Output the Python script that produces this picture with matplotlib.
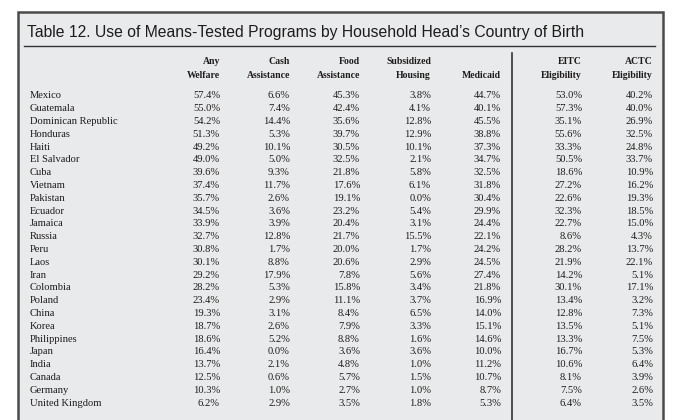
import matplotlib
matplotlib.use("Agg")
import matplotlib.pyplot as plt
from matplotlib.patches import Rectangle

title = "Table 12. Use of Means-Tested Programs by Household Head\u2019s Country of Birth"

countries = ["Mexico", "Guatemala", "Dominican Republic", "Honduras", "Haiti", "El Salvador",
             "Cuba", "Vietnam", "Pakistan", "Ecuador", "Jamaica", "Russia", "Peru", "Laos",
             "Iran", "Colombia", "Poland", "China", "Korea", "Philippines", "Japan", "India",
             "Canada", "Germany", "United Kingdom"]

headers = [("Any", "Welfare"), ("Cash", "Assistance"), ("Food", "Assistance"),
           ("Subsidized", "Housing"), ("", "Medicaid"), ("EITC", "Eligibility"),
           ("ACTC", "Eligibility")]

any_welfare = [57.4, 55.0, 54.2, 51.3, 49.2, 49.0, 39.6, 37.4, 35.7, 34.5, 33.9, 32.7, 30.8,
               30.1, 29.2, 28.2, 23.4, 19.3, 18.7, 18.6, 16.4, 13.7, 12.5, 10.3, 6.2]
cash = [6.6, 7.4, 14.4, 5.3, 10.1, 5.0, 9.3, 11.7, 2.6, 3.6, 3.9, 12.8, 1.7, 8.8, 17.9, 5.3,
        2.9, 3.1, 2.6, 5.2, 0.0, 2.1, 0.6, 1.0, 2.9]
food = [45.3, 42.4, 35.6, 39.7, 30.5, 32.5, 21.8, 17.6, 19.1, 23.2, 20.4, 21.7, 20.0, 20.6,
        7.8, 15.8, 11.1, 8.4, 7.9, 8.8, 3.6, 4.8, 5.7, 2.7, 3.5]
housing = [3.8, 4.1, 12.8, 12.9, 10.1, 2.1, 5.8, 6.1, 0.0, 5.4, 3.1, 15.5, 1.7, 2.9, 5.6, 3.4,
           3.7, 6.5, 3.3, 1.6, 3.6, 1.0, 1.5, 1.0, 1.8]
medicaid = [44.7, 40.1, 45.5, 38.8, 37.3, 34.7, 32.5, 31.8, 30.4, 29.9, 24.4, 22.1, 24.2, 24.5,
            27.4, 21.8, 16.9, 14.0, 15.1, 14.6, 10.0, 11.2, 10.7, 8.7, 5.3]
eitc = [53.0, 57.3, 35.1, 55.6, 33.3, 50.5, 18.6, 27.2, 22.6, 32.3, 22.7, 8.6, 28.2, 21.9,
        14.2, 30.1, 13.4, 12.8, 13.5, 13.3, 16.7, 10.6, 8.1, 7.5, 6.4]
actc = [40.2, 40.0, 26.9, 32.5, 24.8, 33.7, 10.9, 16.2, 19.3, 18.5, 15.0, 4.3, 13.7, 22.1,
        5.1, 17.1, 3.2, 7.3, 5.1, 7.5, 5.3, 6.4, 3.9, 2.6, 3.5]

columns = [any_welfare, cash, food, housing, medicaid, eitc, actc]

W, H = 678, 420
fig = plt.figure(figsize=(W / 100, H / 100), dpi=100)
ax = fig.add_axes([0, 0, 1, 1])
ax.set_xlim(0, W)
ax.set_ylim(H, 0)
ax.axis("off")

bg = "#e9eaeb"
txt = "#1e1b1c"
ax.add_patch(Rectangle((18, 12), 645, 420, facecolor=bg, edgecolor="#4a4a4a", lw=1.8, zorder=0))

ax.text(27, 33, title, fontsize=11.3, family=["Liberation Sans", "DejaVu Sans"],
        color=txt, va="center", ha="left")
ax.plot([24, 655], [46, 46], color="#333333", lw=1.0)
ax.plot([512, 512], [53, 425], color="#333333", lw=1.2)

col_x = [220, 290, 360, 431, 501, 582, 653]
serif = ["Liberation Serif", "DejaVu Serif"]
for x, (h1, h2) in zip(col_x, headers):
    ax.text(x, 62, h1, fontsize=7.0, fontweight="bold", family=serif, ha="right", va="center", color=txt)
    ax.text(x, 75, h2, fontsize=7.0, fontweight="bold", family=serif, ha="right", va="center", color=txt)

row0, dy = 96, 12.8
for i, c in enumerate(countries):
    y = row0 + i * dy
    ax.text(30, y, c, fontsize=7.6, family=serif, ha="left", va="center", color=txt)
    for x, col in zip(col_x, columns):
        ax.text(x, y, f"{col[i]:.1f}%", fontsize=7.6, family=serif, ha="right", va="center", color=txt)

fig.savefig("out.png", dpi=100)
